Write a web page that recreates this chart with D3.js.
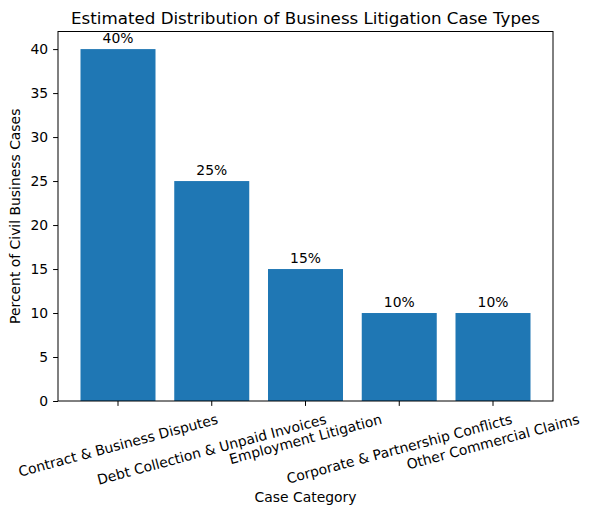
<!DOCTYPE html>
<html>
<head>
<meta charset="utf-8">
<script src="https://cdn.jsdelivr.net/npm/d3@7"></script>
<style>
  body { margin: 0; background: #fff; }
  text { font-family: "DejaVu Sans", sans-serif; fill: #000; }
</style>
</head>
<body>
<svg id="chart" width="590" height="515"></svg>
<script>
// data
const categories = [
  "Contract & Business Disputes",
  "Debt Collection & Unpaid Invoices",
  "Employment Litigation",
  "Corporate & Partnership Conflicts",
  "Other Commercial Claims",
];
const percents = [40, 25, 15, 10, 10];
const yTicks = [0, 5, 10, 15, 20, 25, 30, 35, 40];

let margin = { left: 58, right: 553, top: 31.5, bottom: 401 };
let barColor = "#1f77b4";
let fs = 13.9;

const svg = d3.select("#chart");

// matplotlib style x: -0.64 .. 4.64
const x = d3.scaleLinear().domain([-0.64, 4.64]).range([margin.left, margin.right]);
const y = d3.scaleLinear().domain([0, 42]).range([margin.bottom, margin.top]);
const bw = x(0.8) - x(0);

// bars
svg.selectAll("rect.bar")
  .data(percents)
  .enter()
  .append("rect")
  .attr("class", "bar")
  .attr("x", (d, i) => x(i) - bw / 2)
  .attr("y", (d) => y(d))
  .attr("width", bw)
  .attr("height", (d) => y(0) - y(d))
  .attr("fill", barColor);

// value labels
svg.selectAll("text.val")
  .data(percents)
  .enter()
  .append("text")
  .attr("class", "val")
  .attr("x", (d, i) => x(i))
  .attr("y", (d) => y(d) - 6)
  .attr("text-anchor", "middle")
  .style("font-size", fs + "px")
  .text((d) => d + "%");

// y axis
const yAxis = d3.axisLeft(y).tickValues(yTicks).tickSize(4.9).tickPadding(4.9);
const gy = svg.append("g").attr("transform", `translate(${margin.left},0)`).call(yAxis);
gy.select(".domain").remove();
gy.selectAll("text").style("font-size", fs + "px").attr("font-family", "DejaVu Sans");
gy.selectAll("line").attr("stroke", "#000").attr("stroke-width", 1);

// x ticks
const gx = svg.append("g").attr("transform", `translate(0,${margin.bottom})`);
gx.selectAll("line")
  .data(categories)
  .enter()
  .append("line")
  .attr("x1", (d, i) => x(i))
  .attr("x2", (d, i) => x(i))
  .attr("y1", 0)
  .attr("y2", 4.9)
  .attr("stroke", "#000");

// rotated tick labels, centered on the tick like matplotlib ha=center
let ang = 15 * Math.PI / 180;
gx.selectAll("text")
  .data(categories)
  .enter()
  .append("text")
  .style("font-size", fs + "px")
  .attr("text-anchor", "middle")
  .attr("dominant-baseline", "central")
  .text((d) => d)
  .each(function (d, i) {
    let w = this.getComputedTextLength();
    let h = fs * 1.16;
    let bh = w * Math.sin(ang) + h * Math.cos(ang);
    let cy = 9.8 + bh / 2;
    d3.select(this).attr("transform", `translate(${x(i)},${cy}) rotate(-15)`);
  });

// frame
svg.append("rect")
  .attr("x", margin.left)
  .attr("y", margin.top)
  .attr("width", margin.right - margin.left)
  .attr("height", margin.bottom - margin.top)
  .attr("fill", "none")
  .attr("stroke", "#000")
  .attr("stroke-width", 1);

// titles
svg.append("text")
  .attr("x", (margin.left + margin.right) / 2)
  .attr("y", 24)
  .attr("text-anchor", "middle")
  .style("font-size", "16.7px")
  .text("Estimated Distribution of Business Litigation Case Types");

svg.append("text")
  .attr("x", (margin.left + margin.right) / 2)
  .attr("y", 502)
  .attr("text-anchor", "middle")
  .style("font-size", fs + "px")
  .text("Case Category");

svg.append("text")
  .attr("transform", `translate(20,${(margin.top + margin.bottom) / 2}) rotate(-90)`)
  .attr("text-anchor", "middle")
  .style("font-size", fs + "px")
  .text("Percent of Civil Business Cases");
</script>
</body>
</html>
